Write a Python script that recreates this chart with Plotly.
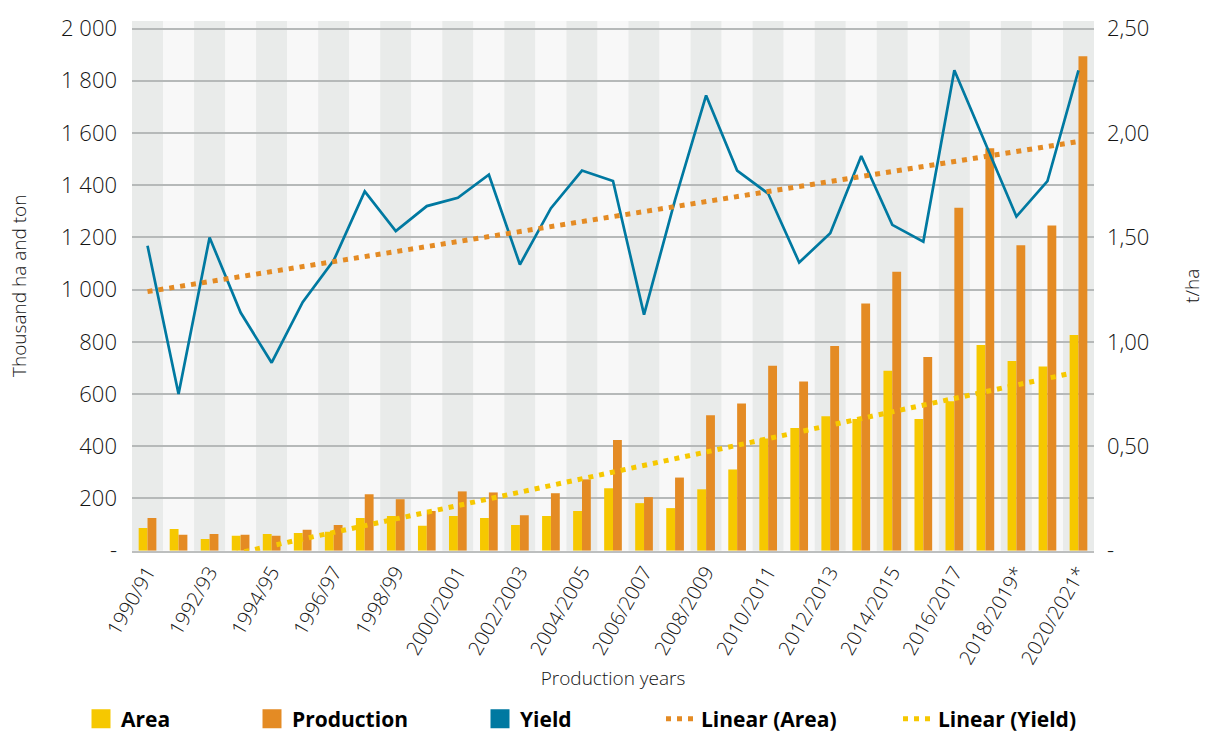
import numpy as np
import plotly.graph_objects as go

# Production seasons (asterisk = provisional figures)
seasons = [
    "1990/91", "1991/92", "1992/93", "1993/94", "1994/95", "1995/96",
    "1996/97", "1997/98", "1998/99", "1999/2000", "2000/2001", "2001/2002",
    "2002/2003", "2003/2004", "2004/2005", "2005/2006", "2006/2007",
    "2007/2008", "2008/2009", "2009/2010", "2010/2011", "2011/2012",
    "2012/2013", "2013/2014", "2014/2015", "2015/2016", "2016/2017",
    "2017/2018", "2018/2019*", "2019/2020*", "2020/2021*",
]

# Thousand ha
area = [87, 83, 45, 57, 64, 68, 72, 125, 133, 95, 133, 125, 98, 133, 152, 239,
        182, 163, 235, 311, 430, 470, 515, 504, 689, 504, 572, 788, 727, 705, 826]

# Thousand ton
production = [125, 61, 64, 61, 57, 80, 98, 216, 197, 152, 227, 223, 136, 220,
              273, 424, 205, 280, 519, 564, 708, 648, 784, 947, 1068, 742,
              1314, 1542, 1170, 1246, 1894]

# t/ha
yield_tha = [1.46, 0.75, 1.50, 1.14, 0.90, 1.19, 1.39, 1.72, 1.53, 1.65, 1.69,
             1.80, 1.37, 1.64, 1.82, 1.77, 1.13, 1.68, 2.18, 1.82, 1.71, 1.38,
             1.52, 1.89, 1.56, 1.48, 2.30, 1.95, 1.60, 1.77, 2.30]

left_ticks = [0, 200, 400, 600, 800, 1000, 1200, 1400, 1600, 1800, 2000]
left_labels = ["-", "200", "400", "600", "800", "1 000", "1 200", "1 400",
               "1 600", "1 800", "2 000"]
right_ticks = [0, 0.5, 1.0, 1.5, 2.0, 2.5]
right_labels = ["-", "0,50", "1,00", "1,50", "2,00", "2,50"]

YELLOW = "#F6C800"
ORANGE = "#E48B24"
BLUE = "#0079A1"
BAND_DARK = "#E9EBEA"
BAND_LIGHT = "#F8F8F8"
GRID = "#B6B9B9"
TEXT = "#141414"
FONT = "Open Sans"

# Least-squares linear trends
idx = np.arange(len(seasons))
yield_fit = np.polyval(np.polyfit(idx, yield_tha, 1), idx)
area_fit = np.polyval(np.polyfit(idx, area, 1), idx)

fig = go.Figure()

fig.add_trace(go.Bar(x=seasons, y=area, name="Area", marker_color=YELLOW,
                     marker_line_width=0, showlegend=False))
fig.add_trace(go.Bar(x=seasons, y=production, name="Production",
                     marker_color=ORANGE, marker_line_width=0, showlegend=False))
fig.add_trace(go.Scatter(x=seasons, y=area_fit, mode="lines",
                         name="Linear (Yield)", legend="legend5",
                         line=dict(color=YELLOW, width=5, dash="5px,6px")))
fig.add_trace(go.Scatter(x=seasons, y=yield_tha, mode="lines", name="Yield",
                         yaxis="y2", showlegend=False,
                         line=dict(color=BLUE, width=2.7)))
fig.add_trace(go.Scatter(x=seasons, y=yield_fit, mode="lines",
                         name="Linear (Area)", yaxis="y2", legend="legend4",
                         line=dict(color=ORANGE, width=5, dash="5px,6px")))

# Square legend keys for the bar and yield series
for name, color, leg in [("Area", YELLOW, "legend"),
                         ("Production", ORANGE, "legend2"),
                         ("Yield", BLUE, "legend3")]:
    fig.add_trace(go.Scatter(x=[None], y=[None], mode="markers", name=name,
                             legend=leg,
                             marker=dict(symbol="square", size=16, color=color,
                                         line=dict(color=color, width=3))))

# Alternating column bands
shapes = []
for i in range(len(seasons)):
    shapes.append(dict(type="rect", xref="x", yref="paper", x0=i - 0.5,
                       x1=i + 0.5, y0=0, y1=1, line_width=0, layer="below",
                       fillcolor=BAND_DARK if i % 2 == 0 else BAND_LIGHT))

legend_font = dict(family=FONT, size=21, color="#000000", weight="bold")
legend_y = 1 - 719 / 733


def legend_at(px):
    return dict(orientation="h", xref="container", yref="container",
                x=px / 1212, y=legend_y, xanchor="left", yanchor="middle",
                font=legend_font, bgcolor="rgba(0,0,0,0)", borderwidth=0)


light = dict(family=FONT, color=TEXT, weight=300)

fig.update_layout(
    width=1212, height=733,
    margin=dict(l=132, r=104, t=15, b=182),
    paper_bgcolor="white", plot_bgcolor=BAND_LIGHT,
    barmode="group", bargap=0.43, bargroupgap=0,
    shapes=shapes,
    font=dict(family=FONT, color=TEXT),
    legend=legend_at(81), legend2=legend_at(252), legend3=legend_at(480),
    legend4=legend_at(661), legend5=legend_at(898),
    xaxis=dict(
        type="category", range=[-0.5, len(seasons) - 0.5],
        tickmode="array", tickvals=seasons[::2], tickangle=-60,
        tickfont=dict(light, size=20), showgrid=False,
        showline=True, linecolor="#BDBFBF", linewidth=2, ticks="",
        title=dict(text="Production years", font=dict(light, size=19),
                   standoff=4),
    ),
    yaxis=dict(
        range=[0, 2029], tickmode="array", tickvals=left_ticks,
        ticktext=left_labels, tickfont=dict(light, size=22),
        showgrid=True, gridcolor=GRID, gridwidth=1.5, zeroline=False,
        ticks="", ticklabelstandoff=14,
        title=dict(text="Thousand ha and ton", font=dict(light, size=19),
                   standoff=29),
    ),
    yaxis2=dict(
        overlaying="y", side="right", range=[0, 2029 / 800],
        tickmode="array", tickvals=right_ticks, ticktext=right_labels,
        tickfont=dict(light, size=22), showgrid=False, zeroline=False,
        ticks="", ticklabelstandoff=12,
        title=dict(text="t/ha", font=dict(light, size=19), standoff=37),
    ),
)

fig.write_html("out.html")
